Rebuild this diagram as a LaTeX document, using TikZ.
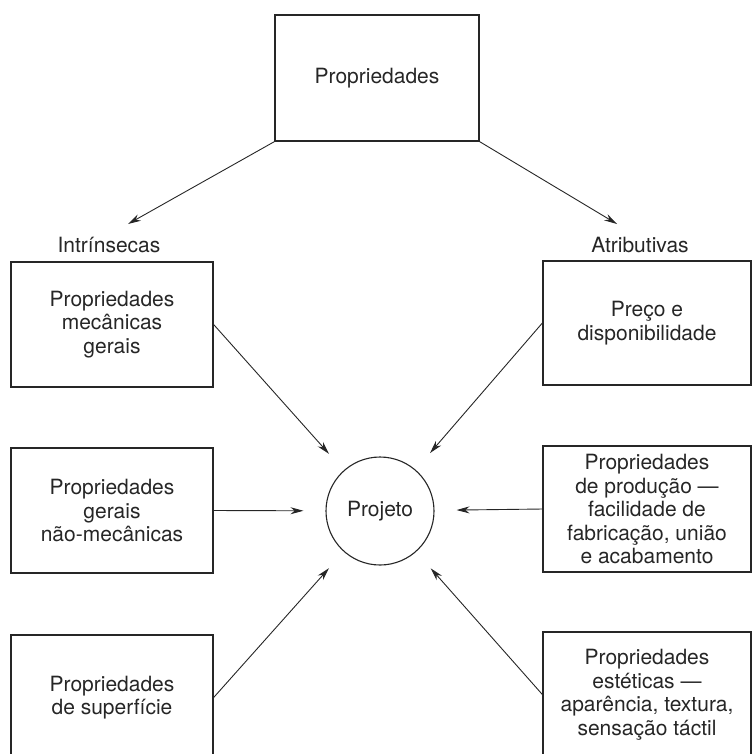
\documentclass[tikz,border=0pt]{standalone}
\usepackage{fontspec}
\setmainfont{TeX Gyre Heros}
\usetikzlibrary{arrows.meta}
\begin{document}
\begin{tikzpicture}[x=1pt,y=-1pt,
  txt/.style={font=\fontsize{21}{23.5}\selectfont, text=black!85},
  box/.style={txt, draw=black!85, line width=1.3pt, minimum width=202pt,
    minimum height=125pt, align=center, inner sep=0pt},
  rbox/.style={box, minimum width=208pt},
  lbl/.style={txt, inner sep=0pt},
  arr/.style={draw=black!85, line width=0.9pt,
    -{Stealth[length=13pt,width=7pt]}, shorten >=22pt}
]
\useasboundingbox (0,0) rectangle (754,753);
\begin{scope}
\clip (0,0) rectangle (754,753);
% top of the hierarchy
\node[box, minimum width=204pt, minimum height=126pt] (top) at (377,78) {Propriedades};
% intrinsic properties
\node[box] (l1) at (112,324.5) {Propriedades\\mecânicas\\gerais};
\node[box] (l2) at (112,510.5) {Propriedades\\gerais\\não-mecânicas};
\node[box] (l3) at (112,697.5) {Propriedades\\de superfície};
% attributive properties
\node[rbox, minimum height=124pt] (r1) at (647,323) {Preço e\\disponibilidade};
\node[rbox, minimum height=126pt] (r2) at (647,509) {Propriedades\\de produção ---\\facilidade de\\fabricação, união\\e acabamento};
\node[rbox] (r3) at (647,694.5) {Propriedades\\estéticas ---\\aparência, textura,\\sensação táctil};
\end{scope}
% group labels
\node[lbl] (li) at (109,245) {Intrínsecas};
\node[lbl] (la) at (640,245) {Atributivas};
\coordinate (tipl) at (128,224);
\coordinate (tipr) at (617,224);
% design at the centre
\node[txt, circle, draw=black!85, line width=1.1pt, minimum size=108pt, inner sep=0pt] (proj) at (380,511) {Projeto};
% connectors
\draw[arr, shorten >=0pt] (top.south west) -- (tipl);
\draw[arr, shorten >=0pt] (top.south east) -- (tipr);
\draw[arr] (l1.east) -- (proj);
\draw[arr] (l2.east) -- (proj);
\draw[arr] (l3.east) -- (proj);
\draw[arr] (r1.west) -- (proj);
\draw[arr] (r2.west) -- (proj);
\draw[arr] (r3.west) -- (proj);
\end{tikzpicture}
\end{document}
